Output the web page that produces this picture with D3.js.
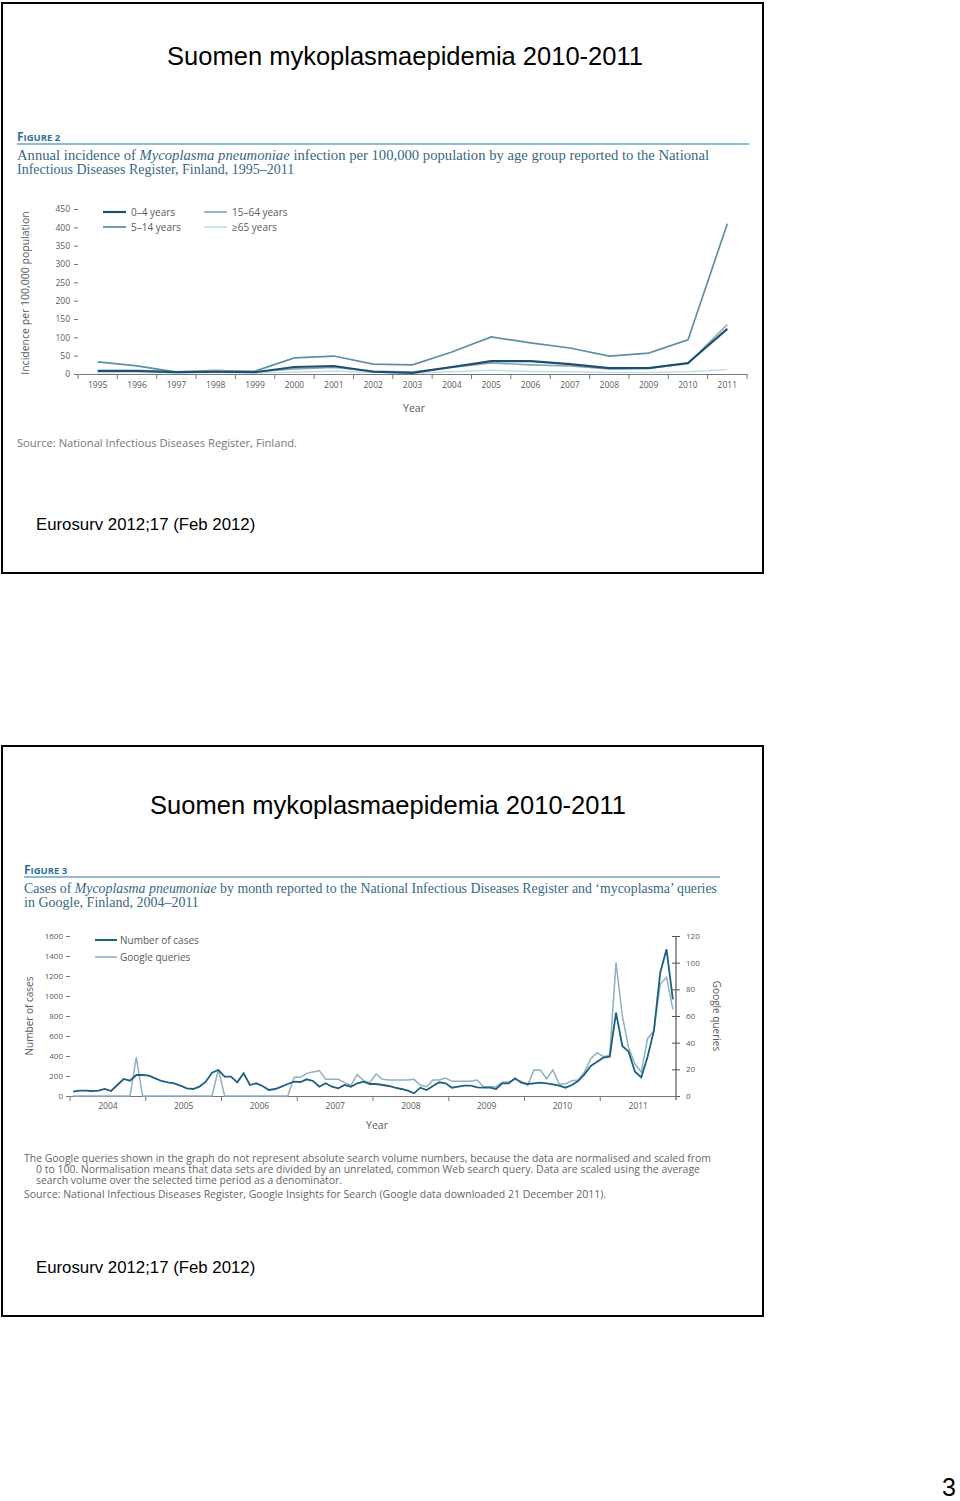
<!DOCTYPE html>
<html><head><meta charset="utf-8">
<script src="https://cdn.jsdelivr.net/npm/d3@7"></script>
<style>body{margin:0;background:#fff}svg{display:block}</style>
</head><body>
<svg id="c" width="960" height="1501"></svg>
<script>
// ---------- Figure 2 data ----------
const years2 = ["1995","1996","1997","1998","1999","2000","2001","2002","2003","2004","2005","2006","2007","2008","2009","2010","2011"];
const inc0_4   = [8, 8, 5, 6, 5, 19, 22, 6, 3, 19, 35, 35, 27, 16, 16, 30, 123];
const inc5_14  = [33, 22, 5, 5, 8, 44, 49, 27, 25, 60, 101, 85, 71, 49, 57, 93, 410];
const inc15_64 = [10, 10, 6, 10, 6, 14, 18, 8, 5, 18, 30, 25, 22, 14, 16, 28, 135];
const inc65    = [3, 4, 3, 4, 3, 5, 8, 4, 3, 6, 10, 7, 6, 4, 4, 6, 12];
const ageGroups = ["0–4 years","5–14 years","15–64 years","≥65 years"];
const yTicks2 = [0,50,100,150,200,250,300,350,400,450];

// ---------- Figure 3 data ----------
const years3 = ["2004","2005","2006","2007","2008","2009","2010","2011"];
const cases = [
  43, 53, 53, 50, 53, 70, 50, 110, 170, 153, 210, 210,
  203, 177, 150, 137, 127, 103, 77, 70, 93, 143, 233, 260,
  193, 193, 137, 227, 110, 127, 100, 60, 70, 93, 120, 143,
  140, 167, 150, 93, 127, 93, 77, 110, 93, 127, 143, 120,
  120, 110, 100, 83, 70, 53, 27, 83, 60, 100, 137, 127,
  83, 93, 103, 103, 87, 83, 83, 70, 127, 127, 177, 133,
  120, 127, 133, 127, 117, 103, 83, 110, 150, 217, 300, 343,
  383, 393, 833, 500, 443, 243, 187, 393, 653, 1233, 1467, 967
];
const google = [
  0, 0, 0, 0, 0, 0, 0, 0, 0, 0, 29, 0,
  0, 0, 0, 0, 0, 0, 0, 0, 0, 0, 0, 20,
  0, 0, 0, 0, 0, 0, 0, 0, 0, 0, 0, 14,
  14, 17, 18, 19, 12.5, 12.5, 12.5, 10, 8, 16, 11.5, 10,
  16.5, 12.5, 12, 12, 12, 12, 12.5, 8, 7, 12, 12, 13.5,
  11, 11, 11, 11, 12, 7, 7, 7, 10.5, 10.5, 12.5, 11,
  8, 19.5, 19.5, 13, 19.5, 9, 9, 11.5, 12, 18, 28, 32.5,
  29.5, 30.5, 100, 60, 36, 24, 18, 43, 49, 84, 89, 65
];
const yTicks3L = [0,200,400,600,800,1000,1200,1400,1600];
const yTicks3R = [0,20,40,60,80,100,120];
const seriesNames3 = ["Number of cases","Google queries"];

// ---------- page ----------
const svg = d3.select("#c");
const SANS = "'Liberation Sans', Arial, sans-serif";
const SERIF = "'Liberation Serif', 'DejaVu Serif', serif";
const CH = "'Open Sans', 'Noto Sans', sans-serif";
const TEAL = "#2f7199", CAP = "#3a6883", GREY = "#5a5a5a";
const fmt = d3.format("d");

// slide boxes
[[3,573],[746,1316]].forEach(([t,b])=>{
  svg.append("rect").attr("x",2).attr("y",t).attr("width",761).attr("height",b-t)
    .attr("fill","none").attr("stroke","#000").attr("stroke-width",2);
});
// titles
svg.append("text").attr("x",405).attr("y",65).attr("text-anchor","middle")
  .attr("font-family",SANS).attr("font-size",25.5).text("Suomen mykoplasmaepidemia 2010-2011");
svg.append("text").attr("x",388).attr("y",814).attr("text-anchor","middle")
  .attr("font-family",SANS).attr("font-size",25.5).text("Suomen mykoplasmaepidemia 2010-2011");
svg.append("text").attr("x",36).attr("y",530).attr("font-family",SANS).attr("font-size",16.8).text("Eurosurv 2012;17 (Feb 2012)");
svg.append("text").attr("x",36).attr("y",1273).attr("font-family",SANS).attr("font-size",16.8).text("Eurosurv 2012;17 (Feb 2012)");
svg.append("text").attr("x",949).attr("y",1496).attr("text-anchor","middle").attr("font-family",SANS).attr("font-size",25).text("3");

function figHeader(x, y, x2, num, line1parts, line2, len1) {
  const t = svg.append("text").attr("x",x).attr("y",y).attr("font-family",CH).attr("font-weight","bold").attr("fill",TEAL);
  t.append("tspan").attr("font-size",12).text("F");
  t.append("tspan").attr("font-size",9.5).text("IGURE " + num);
  svg.append("line").attr("x1",x).attr("x2",x2).attr("y1",y+3).attr("y2",y+3).attr("stroke","#6aa4c4").attr("stroke-width",1.5);
  const c1 = svg.append("text").attr("x",x).attr("y",y+19).attr("font-family",SERIF).attr("font-size",14).attr("fill",CAP)
    .attr("textLength",len1).attr("lengthAdjust","spacingAndGlyphs");
  line1parts.forEach(p=>c1.append("tspan").attr("font-style",p[1]?"italic":"normal").text(p[0]));
  svg.append("text").attr("x",x).attr("y",y+33).attr("font-family",SERIF).attr("font-size",14).attr("fill",CAP).text(line2);
}

// ================= Figure 2 =================
figHeader(17, 141, 749, "2",
  [["Annual incidence of ",0],["Mycoplasma pneumoniae",1],[" infection per 100,000 population by age group reported to the National",0]],
  "Infectious Diseases Register, Finland, 1995–2011", 692);

const x2 = d3.scaleBand().domain(years2).range([78, 747]);
const y2 = d3.scaleLinear().domain([0,450]).range([374, 209]);
const g2 = svg.append("g");

const ya2 = g2.append("g").attr("transform","translate(78,0)")
  .call(d3.axisLeft(y2).tickValues(yTicks2).tickFormat(fmt).tickSize(4).tickPadding(4));
ya2.select(".domain").remove();
ya2.selectAll("line").attr("stroke","#777");
ya2.selectAll("text").attr("font-family",CH).attr("font-size",8.5).attr("fill",GREY);

const xa2 = g2.append("g").attr("transform","translate(0,374)")
  .call(d3.axisBottom(x2).tickSize(0).tickPadding(8));
xa2.select(".domain").attr("stroke","#777");
xa2.selectAll("text").attr("font-family",CH).attr("font-size",8.5).attr("fill",GREY);
g2.selectAll(".bt2").data(years2.concat(["end"])).enter().append("line")
  .attr("x1",d=>d==="end"?x2.range()[1]:x2(d)).attr("x2",d=>d==="end"?x2.range()[1]:x2(d))
  .attr("y1",374).attr("y2",379).attr("stroke","#777");

const series2 = [
  {name: ageGroups[3], v: inc65,    c: "#c5dde9", w: 1.5},
  {name: ageGroups[2], v: inc15_64, c: "#86a6b6", w: 1.6},
  {name: ageGroups[1], v: inc5_14,  c: "#5f8ea7", w: 1.7},
  {name: ageGroups[0], v: inc0_4,   c: "#1d4f6e", w: 2.1}
];
const line2 = d3.line().x((d,i)=>x2(years2[i]) + x2.bandwidth()/2).y(d=>y2(d));
series2.forEach(s=>{
  g2.append("path").datum(s.v).attr("d",line2).attr("fill","none").attr("stroke",s.c).attr("stroke-width",s.w);
});
// legend
const leg2 = [
  {name: ageGroups[0], c:"#1d4f6e", w:2.2, x:103, y:212},
  {name: ageGroups[1], c:"#4b87a8", w:1.6, x:103, y:227},
  {name: ageGroups[2], c:"#86a6b6", w:1.6, x:204, y:212},
  {name: ageGroups[3], c:"#c5dde9", w:1.6, x:204, y:227}
];
leg2.forEach(l=>{
  g2.append("line").attr("x1",l.x).attr("x2",l.x+23).attr("y1",l.y).attr("y2",l.y).attr("stroke",l.c).attr("stroke-width",l.w);
  g2.append("text").attr("x",l.x+28).attr("y",l.y+3.5).attr("font-family",CH).attr("font-size",10).attr("fill",GREY).text(l.name);
});
g2.append("text").attr("transform","translate(29,293) rotate(-90)").attr("text-anchor","middle")
  .attr("font-family",CH).attr("font-size",10.5).attr("fill",GREY).text("Incidence per 100,000 population");
g2.append("text").attr("x",414).attr("y",412).attr("text-anchor","middle")
  .attr("font-family",CH).attr("font-size",10.5).attr("fill",GREY).text("Year");
g2.append("text").attr("x",17).attr("y",447).attr("font-family",CH).attr("font-size",10.5).attr("fill","#777")
  .attr("textLength",280).attr("lengthAdjust","spacingAndGlyphs").text("Source: National Infectious Diseases Register, Finland.");

// ================= Figure 3 =================
figHeader(24, 874, 720, "3",
  [["Cases of ",0],["Mycoplasma pneumoniae",1],[" by month reported to the National Infectious Diseases Register and ‘mycoplasma’ queries",0]],
  "in Google, Finland, 2004–2011", 693);

const x3 = d3.scaleBand().domain(years3).range([70, 676]);
const xm = d3.scaleLinear().domain([0, cases.length]).range([70, 676]);
const yL = d3.scaleLinear().domain([0,1600]).range([1096, 936]);
const yR = d3.scaleLinear().domain([0,120]).range([1096, 936]);
const g3 = svg.append("g");

const yl3 = g3.append("g").attr("transform","translate(70,0)")
  .call(d3.axisLeft(yL).tickValues(yTicks3L).tickFormat(fmt).tickSize(4).tickPadding(3));
yl3.select(".domain").remove();
yl3.selectAll("line").attr("stroke","#777");
yl3.selectAll("text").attr("font-family",CH).attr("font-size",8).attr("fill",GREY);

const yr3 = g3.append("g").attr("transform","translate(676,0)")
  .call(d3.axisRight(yR).tickValues(yTicks3R).tickFormat(fmt).tickSize(4).tickPadding(6));
yr3.select(".domain").remove();
yr3.selectAll("line").attr("x1",-4).attr("stroke","#555");
yr3.selectAll("text").attr("font-family",CH).attr("font-size",8).attr("fill",GREY);
g3.append("line").attr("x1",676).attr("x2",676).attr("y1",yR(120)).attr("y2",1100).attr("stroke","#555").attr("stroke-width",1.2);

const xa3 = g3.append("g").attr("transform","translate(0,1096)")
  .call(d3.axisBottom(x3).tickSize(0).tickPadding(7));
xa3.select(".domain").attr("stroke","#777");
xa3.selectAll("text").attr("font-family",CH).attr("font-size",8.5).attr("fill",GREY);
g3.selectAll(".bt3").data(years3).enter().append("line")
  .attr("x1",d=>x3(d)).attr("x2",d=>x3(d)).attr("y1",1096).attr("y2",1101).attr("stroke","#777");

const lineC = d3.line().x((d,i)=>xm(i+0.5)).y(d=>yL(d));
const lineG = d3.line().x((d,i)=>xm(i+0.5)).y(d=>yR(d));
g3.append("path").datum(google).attr("d",lineG).attr("fill","none").attr("stroke","#8fb0bf").attr("stroke-width",1.5);
g3.append("path").datum(cases).attr("d",lineC).attr("fill","none").attr("stroke","#1f5f7f").attr("stroke-width",1.8);

[{n:seriesNames3[0], c:"#1f5f7f", w:2, y:940},{n:seriesNames3[1], c:"#8fb0bf", w:1.6, y:957}].forEach(l=>{
  g3.append("line").attr("x1",95).attr("x2",117).attr("y1",l.y).attr("y2",l.y).attr("stroke",l.c).attr("stroke-width",l.w);
  g3.append("text").attr("x",120).attr("y",l.y+3.5).attr("font-family",CH).attr("font-size",10).attr("fill",GREY).text(l.n);
});
g3.append("text").attr("transform","translate(33,1016) rotate(-90)").attr("text-anchor","middle")
  .attr("font-family",CH).attr("font-size",10).attr("fill",GREY).text("Number of cases");
g3.append("text").attr("transform","translate(713,1016) rotate(90)").attr("text-anchor","middle")
  .attr("font-family",CH).attr("font-size",10).attr("fill",GREY).text("Google queries");
g3.append("text").attr("x",377).attr("y",1129).attr("text-anchor","middle")
  .attr("font-family",CH).attr("font-size",10.5).attr("fill",GREY).text("Year");

const notes = [
  {x:24, y:1162, len:687, t:"The Google queries shown in the graph do not represent absolute search volume numbers, because the data are normalised and scaled from"},
  {x:36, y:1173, len:664, t:"0 to 100. Normalisation means that data sets are divided by an unrelated, common Web search query. Data are scaled using the average"},
  {x:36, y:1184, len:306, t:"search volume over the selected time period as a denominator."},
  {x:24, y:1198, len:582, t:"Source: National Infectious Diseases Register, Google Insights for Search (Google data downloaded 21 December 2011)."}
];
notes.forEach(n=>{
  g3.append("text").attr("x",n.x).attr("y",n.y).attr("font-family",CH).attr("font-size",10).attr("fill","#666")
    .attr("textLength",n.len).attr("lengthAdjust","spacingAndGlyphs").text(n.t);
});
</script>
</body></html>
